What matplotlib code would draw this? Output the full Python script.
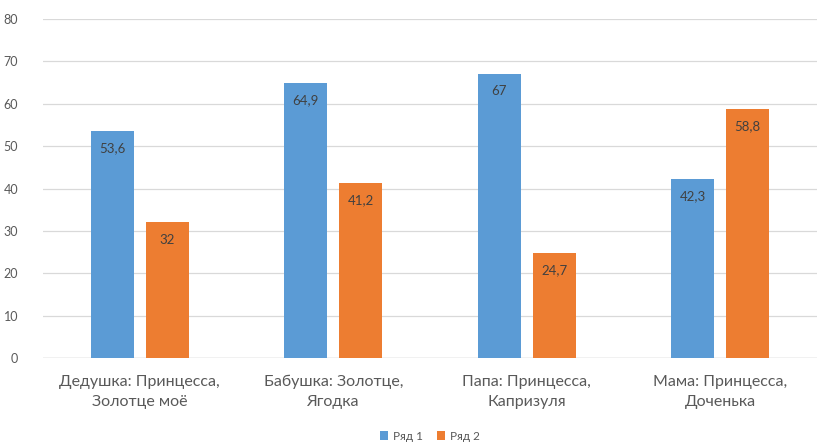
import matplotlib.pyplot as plt
import numpy as np

# Dati del grafico
categorie = ['Дедушка: Принцесса,\nЗолотце моё', 'Бабушка: Золотце,\nЯгодка',
             'Папа: Принцесса,\nКапризуля', 'Мама: Принцесса,\nДоченька']
ryad1 = [53.6, 64.9, 67, 42.3]
ryad2 = [32, 41.2, 24.7, 58.8]
serie = ['Ряд 1', 'Ряд 2']
etichette1 = ['53,6', '64,9', '67', '42,3']
etichette2 = ['32', '41,2', '24,7', '58,8']

plt.rcParams['font.family'] = ['Lato', 'DejaVu Sans']

fig = plt.figure(figsize=(8.17, 4.46), dpi=100)
ax = fig.add_axes([43/817, 88/446, 774/817, 339/446])

x = np.arange(len(categorie))
w = 0.222
b1 = ax.bar(x - 0.142, ryad1, w, color='#5B9BD5', label=serie[0], zorder=3)
b2 = ax.bar(x + 0.142, ryad2, w, color='#ED7D31', label=serie[1], zorder=3)

# Etichette dentro le barre
for bars, labs in ((b1, etichette1), (b2, etichette2)):
    for r, t in zip(bars, labs):
        ax.annotate(t, (r.get_x() + r.get_width()/2, r.get_height()),
                    xytext=(0, -8), textcoords='offset points',
                    ha='center', va='top', fontsize=9.5, color='#404040', zorder=4)

ax.set_xlim(-0.5, 3.5)
ax.set_ylim(0, 80)
ax.set_yticks(range(0, 81, 10))
ax.set_xticks(x)
ax.set_xticklabels(categorie, fontsize=11.5, color='#595959', linespacing=1.55)
ax.tick_params(axis='y', labelsize=9, labelcolor='#595959', length=0, pad=18)
ax.tick_params(axis='x', length=0, pad=12)
ax.grid(axis='y', color='#D9D9D9', linewidth=0.9, zorder=0)
for s in ax.spines.values():
    s.set_visible(False)
ax.axhline(0, color='#D0D0D0', linewidth=1, zorder=2)

fig.legend(loc='center', bbox_to_anchor=(430/817, 1 - 436/446), ncol=2,
           frameon=False, fontsize=8.5, handlelength=0.7, handleheight=0.7,
           handletextpad=0.4, columnspacing=1.2, labelcolor='#595959')

plt.savefig('out.png', dpi=100)
